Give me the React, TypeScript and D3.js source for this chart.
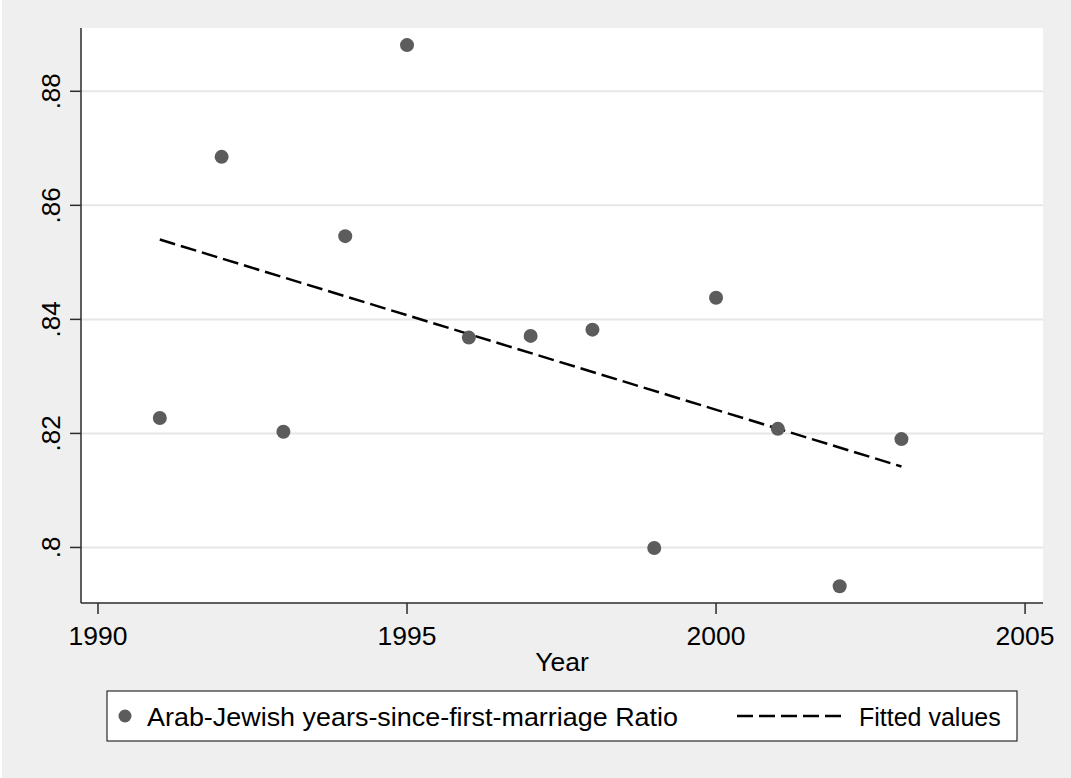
import React, { useEffect, useRef } from 'react';
import * as d3 from 'd3';

// Observed ratio per year
const years = [1991, 1992, 1993, 1994, 1995, 1996, 1997, 1998, 1999, 2000, 2001, 2002, 2003];
const ratios = [0.8227, 0.8685, 0.8203, 0.8546, 0.8881, 0.8368, 0.8371, 0.8382, 0.7999, 0.8438, 0.8208, 0.7932, 0.8190];

// Fitted line end points
const fitYears = [1991, 2003];
const fitValues = [0.8540, 0.8142];

const xTicks = [1990, 1995, 2000, 2005];
const yTicks = [0.8, 0.82, 0.84, 0.86, 0.88];
const yTickLabels = ['.8', '.82', '.84', '.86', '.88'];

const seriesLabel = 'Arab-Jewish years-since-first-marriage Ratio';
const fitLabel = 'Fitted values';
const xTitle = 'Year';

const W = 1071;
const H = 778;

const App: React.FC = () => {
  const svgRef = useRef<SVGSVGElement>(null);

  useEffect(() => {
    document.body.style.margin = '0';
    if (!svgRef.current) return;
    const svg = d3.select(svgRef.current);
    svg.selectAll('*').remove();

    const font = "'Liberation Sans', Arial, Helvetica, sans-serif";
    const plot = { left: 81, right: 1043, top: 28, bottom: 603 };

    // background
    svg.append('rect').attr('x', 0).attr('y', 0).attr('width', W).attr('height', H).attr('fill', '#ffffff');
    svg.append('rect').attr('x', 2).attr('y', 0).attr('width', W - 2).attr('height', H).attr('fill', '#efefef');
    svg.append('rect')
      .attr('x', plot.left).attr('y', plot.top)
      .attr('width', plot.right - plot.left).attr('height', plot.bottom - plot.top)
      .attr('fill', '#ffffff');

    const x = d3.scaleLinear().domain([1989.725, 2005.29]).range([plot.left, plot.right]);
    const y = d3.scaleLinear().domain([0.79026, 0.8911]).range([plot.bottom, plot.top]);

    // grid
    svg.append('g')
      .selectAll('line')
      .data(yTicks)
      .join('line')
      .attr('x1', plot.left).attr('x2', plot.right)
      .attr('y1', d => y(d)).attr('y2', d => y(d))
      .attr('stroke', '#e6e6e6')
      .attr('stroke-width', 2);

    // y axis
    const yAxis = svg.append('g');
    yAxis.append('line')
      .attr('x1', plot.left).attr('x2', plot.left)
      .attr('y1', plot.top).attr('y2', plot.bottom)
      .attr('stroke', '#2b2b2b').attr('stroke-width', 1.5);
    yAxis.selectAll('line.tick')
      .data(yTicks)
      .join('line')
      .attr('class', 'tick')
      .attr('x1', plot.left - 11).attr('x2', plot.left)
      .attr('y1', d => y(d)).attr('y2', d => y(d))
      .attr('stroke', '#2b2b2b').attr('stroke-width', 1.5);
    yAxis.selectAll('text')
      .data(yTicks)
      .join('text')
      .attr('transform', d => `translate(60,${y(d)}) rotate(-90)`)
      .attr('text-anchor', 'middle')
      .attr('font-family', font)
      .attr('font-size', 26)
      .attr('fill', '#000')
      .text((d, i) => yTickLabels[i]);

    // x axis
    const xAxis = svg.append('g');
    xAxis.append('line')
      .attr('x1', plot.left).attr('x2', plot.right)
      .attr('y1', plot.bottom).attr('y2', plot.bottom)
      .attr('stroke', '#2b2b2b').attr('stroke-width', 1.5);
    xAxis.selectAll('line.tick')
      .data(xTicks)
      .join('line')
      .attr('class', 'tick')
      .attr('x1', d => x(d)).attr('x2', d => x(d))
      .attr('y1', plot.bottom).attr('y2', plot.bottom + 11)
      .attr('stroke', '#2b2b2b').attr('stroke-width', 1.5);
    xAxis.selectAll('text')
      .data(xTicks)
      .join('text')
      .attr('x', d => x(d))
      .attr('y', 645)
      .attr('text-anchor', 'middle')
      .attr('font-family', font)
      .attr('font-size', 26.5)
      .attr('fill', '#000')
      .text(d => String(d));

    svg.append('text')
      .attr('x', (plot.left + plot.right) / 2)
      .attr('y', 671)
      .attr('text-anchor', 'middle')
      .attr('font-family', font)
      .attr('font-size', 26.5)
      .attr('fill', '#000')
      .text(xTitle);

    // fitted line
    const fit = fitYears.map((yr, i) => ({ x: yr, v: fitValues[i] }));
    svg.append('path')
      .datum(fit)
      .attr('fill', 'none')
      .attr('stroke', '#000')
      .attr('stroke-width', 2.5)
      .attr('stroke-dasharray', '16,6')
      .attr('d', d3.line<{ x: number; v: number }>().x(d => x(d.x)).y(d => y(d.v)));

    // points
    svg.append('g')
      .selectAll('circle')
      .data(years.map((yr, i) => ({ x: yr, v: ratios[i] })))
      .join('circle')
      .attr('cx', d => x(d.x))
      .attr('cy', d => y(d.v))
      .attr('r', 7)
      .attr('fill', '#5c5c5c');

    // legend
    const lg = svg.append('g');
    lg.append('rect')
      .attr('x', 107).attr('y', 691)
      .attr('width', 1017 - 107).attr('height', 741 - 691)
      .attr('fill', '#ffffff')
      .attr('stroke', '#2b2b2b')
      .attr('stroke-width', 1.2);
    lg.append('circle')
      .attr('cx', 125).attr('cy', 716).attr('r', 6.5).attr('fill', '#5c5c5c');
    lg.append('text')
      .attr('x', 147).attr('y', 726)
      .attr('font-family', font).attr('font-size', 25).attr('fill', '#000')
      .attr('textLength', 531).attr('lengthAdjust', 'spacingAndGlyphs')
      .text(seriesLabel);
    lg.append('line')
      .attr('x1', 737).attr('x2', 847)
      .attr('y1', 716).attr('y2', 716)
      .attr('stroke', '#000').attr('stroke-width', 2.5)
      .attr('stroke-dasharray', '16,6');
    lg.append('text')
      .attr('x', 859).attr('y', 726)
      .attr('font-family', font).attr('font-size', 25).attr('fill', '#000')
      .text(fitLabel);
  }, []);

  return <svg ref={svgRef} width={W} height={H} style={{ display: 'block' }} />;
};

export default App;
